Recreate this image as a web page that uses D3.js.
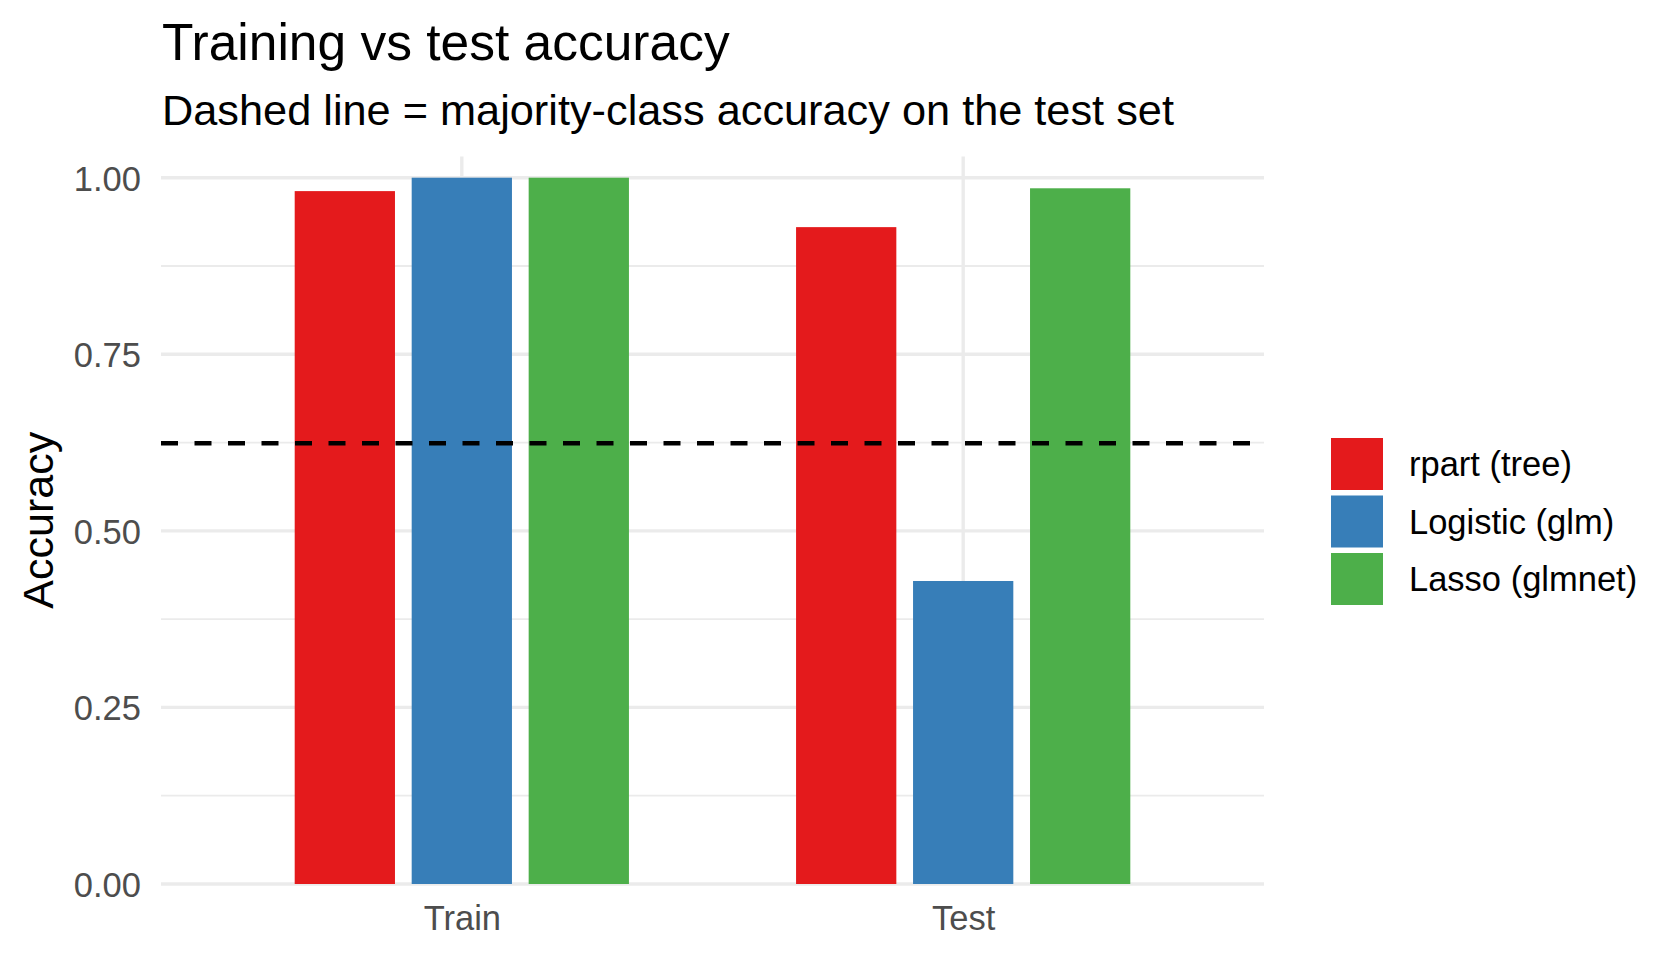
<!DOCTYPE html>
<html>
<head>
<meta charset="utf-8">
<script src="https://cdn.jsdelivr.net/npm/d3@7"></script>
<style>
  body { margin: 0; background: #fff; }
  text { font-family: "Liberation Sans", Arial, sans-serif; }
</style>
</head>
<body>
<div id="chart"></div>
<script>
var groups = ["Train", "Test"];
var models = ["rpart (tree)", "Logistic (glm)", "Lasso (glmnet)"];
var trainAcc = [0.981, 1.0, 1.0];
var testAcc = [0.930, 0.429, 0.985];
var majorityAcc = 0.624;
var yTicks = [0, 0.25, 0.5, 0.75, 1];
var yMinor = [0.125, 0.375, 0.625, 0.875];
var colors = ["#E41A1C", "#377EB8", "#4DAF4A"];

var width = 1680, height = 960;
// panel box (window.top is reserved, so use own names)
var panelLeft = 161, panelRight = 1264, panelTop = 156.5, panelBottom = 884;

var svg = d3.select("#chart")
    .append("svg")
    .attr("width", width)
    .attr("height", height);

var x = d3.scalePoint()
    .domain(groups)
    .range([panelLeft, panelRight])
    .padding(0.6);

var step = x.step();

var xInner = d3.scaleBand()
    .domain(models)
    .range([-0.35 * step, 0.35 * step])
    .paddingInner(1 / 7)
    .paddingOuter(1 / 14);

var y = d3.scaleLinear()
    .domain([0, 1.03])
    .range([panelBottom, panelTop]);

var color = d3.scaleOrdinal().domain(models).range(colors);

// grid
var grid = svg.append("g");
grid.selectAll("line.minor")
    .data(yMinor)
    .enter().append("line")
    .attr("class", "minor")
    .attr("x1", panelLeft).attr("x2", panelRight)
    .attr("y1", d => y(d)).attr("y2", d => y(d))
    .attr("stroke", "#EBEBEB").attr("stroke-width", 1.8);
grid.selectAll("line.major")
    .data(yTicks)
    .enter().append("line")
    .attr("class", "major")
    .attr("x1", panelLeft).attr("x2", panelRight)
    .attr("y1", d => y(d)).attr("y2", d => y(d))
    .attr("stroke", "#EBEBEB").attr("stroke-width", 3.4);
grid.selectAll("line.vmajor")
    .data(groups)
    .enter().append("line")
    .attr("class", "vmajor")
    .attr("x1", d => x(d)).attr("x2", d => x(d))
    .attr("y1", panelTop).attr("y2", panelBottom)
    .attr("stroke", "#EBEBEB").attr("stroke-width", 3.4);

// bars
var rows = [];
groups.forEach(function(g) {
    var vals = g == "Train" ? trainAcc : testAcc;
    models.forEach(function(m, i) {
        rows.push({group: g, model: m, value: vals[i]});
    });
});

svg.append("g").selectAll("rect")
    .data(rows)
    .enter().append("rect")
    .attr("x", d => x(d.group) + xInner(d.model))
    .attr("width", xInner.bandwidth())
    .attr("y", d => y(d.value))
    .attr("height", d => y(0) - y(d.value))
    .attr("fill", d => color(d.model));

// majority-class line
svg.append("line")
    .attr("x1", panelLeft).attr("x2", panelRight)
    .attr("y1", y(majorityAcc)).attr("y2", y(majorityAcc))
    .attr("stroke", "#000")
    .attr("stroke-width", 4.3)
    .attr("stroke-dasharray", "17,16.5");

// y axis labels
var yAxis = d3.axisLeft(y)
    .tickValues(yTicks)
    .tickFormat(d3.format(".2f"))
    .tickSize(0)
    .tickPadding(0);

var ya = svg.append("g")
    .attr("transform", "translate(141,0)")
    .call(yAxis);
ya.select(".domain").remove();
ya.selectAll("text")
    .attr("fill", "#4D4D4D")
    .style("font-size", "34.5px")
    .attr("font-family", null)
    .attr("dy", "0.36em");

// x axis labels
var xAxis = d3.axisBottom(x).tickSize(0).tickPadding(0);
var xa = svg.append("g")
    .attr("transform", "translate(0," + panelBottom + ")")
    .call(xAxis);
xa.select(".domain").remove();
xa.selectAll("text")
    .attr("fill", "#4D4D4D")
    .style("font-size", "34.5px")
    .attr("y", 46)
    .attr("dy", 0);

// axis title
svg.append("text")
    .attr("transform", "translate(53," + ((panelTop + panelBottom) / 2) + ") rotate(-90)")
    .attr("text-anchor", "middle")
    .style("font-size", "43px")
    .attr("fill", "#000")
    .text("Accuracy");

// titles
svg.append("text")
    .attr("x", 162).attr("y", 60)
    .style("font-size", "51.5px")
    .attr("fill", "#000")
    .text("Training vs test accuracy");

svg.append("text")
    .attr("x", 162).attr("y", 125)
    .style("font-size", "43.3px")
    .attr("fill", "#000")
    .text("Dashed line = majority-class accuracy on the test set");

// legend
var legend = svg.append("g")
    .attr("transform", "translate(1331,438)");

var item = legend.selectAll("g")
    .data(models)
    .enter().append("g")
    .attr("transform", (d, i) => "translate(0," + (i * 57.5) + ")");

item.append("rect")
    .attr("width", 52).attr("height", 52)
    .attr("fill", d => color(d));

item.append("text")
    .attr("x", 78).attr("y", 26)
    .attr("dy", "0.36em")
    .style("font-size", "34.5px")
    .attr("fill", "#000")
    .text(d => d);
</script>
</body>
</html>
